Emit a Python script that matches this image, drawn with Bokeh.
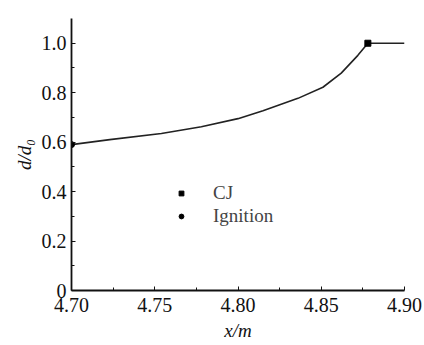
from bokeh.plotting import figure
from bokeh.models import Range1d, Legend, LegendItem, FixedTicker
from bokeh.embed import file_html
from bokeh.resources import INLINE

x_vals = [4.700, 4.723, 4.754, 4.778, 4.800, 4.815, 4.836, 4.851, 4.862, 4.872, 4.878, 4.900]
y_vals = [0.590, 0.610, 0.635, 0.662, 0.695, 0.727, 0.777, 0.822, 0.879, 0.951, 1.000, 1.000]
cj_x, cj_y = [4.878], [1.0]
ign_x, ign_y = [4.700], [0.590]
x_ticks = [4.70, 4.75, 4.80, 4.85, 4.90]
y_ticks = [0, 0.2, 0.4, 0.6, 0.8, 1.0]
y_tick_labels = {0: "0", 0.2: "0.2", 0.4: "0.4", 0.6: "0.6", 0.8: "0.8", 1.0: "1.0"}

FONT = "Liberation Serif"

p = figure(width=424, height=345, output_backend="svg", toolbar_location=None,
           x_range=Range1d(4.70, 4.90), y_range=Range1d(0, 1.1),
           min_border_left=71, min_border_right=20, min_border_top=18, min_border_bottom=55)
p.outline_line_color = None
p.grid.visible = False
p.background_fill_color = "white"

p.line(x_vals, y_vals, line_color="#222222", line_width=1.6)
cj = p.scatter(cj_x, cj_y, marker="square", size=6, color="black")
ign = p.scatter(ign_x, ign_y, marker="circle", size=6, color="black")

for ax in (p.xaxis[0], p.yaxis[0]):
    ax.axis_line_width = 1.8
    ax.axis_line_color = "#111111"
    ax.major_tick_in = 4
    ax.major_tick_out = 0
    ax.minor_tick_in = 3
    ax.minor_tick_out = 0
    ax.major_tick_line_color = "#111111"
    ax.minor_tick_line_color = "#111111"
    ax.major_label_text_font = FONT
    ax.major_label_text_font_size = "20px"
    ax.major_label_text_color = "#111111"
    ax.axis_label_text_font = FONT
    ax.axis_label_text_font_size = "19px"
    ax.axis_label_text_font_style = "italic"
    ax.axis_label_text_color = "#111111"

p.xaxis.ticker = FixedTicker(ticks=x_ticks, minor_ticks=[4.725, 4.775, 4.825, 4.875])
p.xaxis.major_label_overrides = {4.7: "4.70", 4.75: "4.75", 4.8: "4.80", 4.85: "4.85", 4.9: "4.90"}
p.xaxis.major_label_standoff = 7
p.xaxis.axis_label = "x/m"
p.xaxis.axis_label_standoff = 5

p.yaxis.ticker = FixedTicker(ticks=y_ticks, minor_ticks=[0.1, 0.3, 0.5, 0.7, 0.9])
p.yaxis.major_label_overrides = y_tick_labels
p.yaxis.major_label_standoff = 5
p.yaxis.axis_label = "d/d₀"
p.yaxis.axis_label_standoff = 4

legend = Legend(items=[LegendItem(label="CJ", renderers=[cj]),
                       LegendItem(label="Ignition", renderers=[ign])],
                location=(102, 61), background_fill_alpha=0, border_line_alpha=0,
                label_text_font=FONT, label_text_font_size="19px",
                glyph_width=12, glyph_height=20, spacing=1, padding=2,
                label_standoff=26, label_height=20)
p.add_layout(legend)

open("out.html", "w").write(file_html(p, INLINE))
